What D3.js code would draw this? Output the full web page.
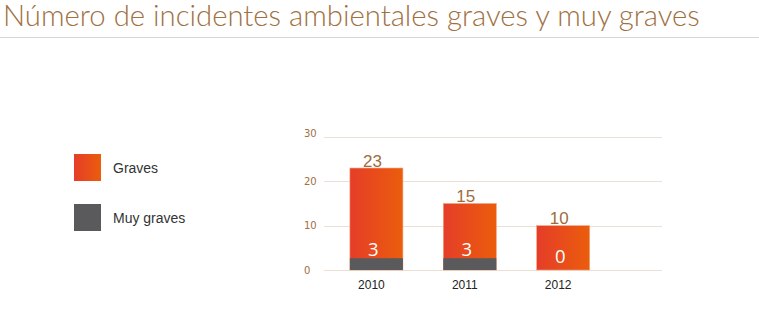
<!DOCTYPE html>
<html><head><meta charset="utf-8">
<script src="https://cdn.jsdelivr.net/npm/d3@7"></script>
<style>
html,body{margin:0;padding:0;background:#fff;}
svg{display:block;}
</style></head>
<body>
<svg id="chart" width="759" height="323"></svg>
<script>
const title = "Número de incidentes ambientales graves y muy graves";
const years = ["2010", "2011", "2012"];
const graves = [23, 15, 10];
const muyGraves = [3, 3, 0];
const yTicks = [0, 10, 20, 30];
const seriesNames = ["Graves", "Muy graves"];

const svg = d3.select("#chart");
const defs = svg.append("defs");
const grad = defs.append("linearGradient").attr("id", "gOrange")
  .attr("x1", "0%").attr("x2", "100%").attr("y1", "0%").attr("y2", "0%");
grad.append("stop").attr("offset", "0%").attr("stop-color", "#e53d29");
grad.append("stop").attr("offset", "100%").attr("stop-color", "#eb5d0c");

// Title
svg.append("text").attr("x", 3).attr("y", 26)
  .attr("font-family", "Lato").attr("font-weight", 300)
  .attr("font-size", 29.3).attr("fill", "#a0703f")
  .text(title);
svg.append("line").attr("x1", 0).attr("x2", 759).attr("y1", 37.5).attr("y2", 37.5)
  .attr("stroke", "#d6d6d6").attr("stroke-width", 1);

// Scales
const y = d3.scaleLinear().domain([0, 30]).range([270, 137]);
const x = d3.scaleBand().domain(years).range([329.7, 609.9])
  .paddingInner(0.4325).paddingOuter(0.2163);
const gridX0 = 324, gridX1 = 662;

// Grid
const grid = svg.append("g");
grid.selectAll("line").data(yTicks).join("line")
  .attr("x1", gridX0).attr("x2", gridX1)
  .attr("y1", d => Math.round(y(d)) + 0.5).attr("y2", d => Math.round(y(d)) + 0.5)
  .attr("stroke", "#eddfd3").attr("stroke-width", 1);

// Y axis labels
const yAxis = d3.axisLeft(y).tickValues(yTicks).tickSize(0).tickPadding(0);
const ya = svg.append("g").attr("transform", "translate(304,0)").call(yAxis);
ya.select(".domain").remove();
ya.selectAll("text").attr("text-anchor", "start")
  .attr("font-family", "DejaVu Sans").attr("font-size", 10)
  .attr("fill", "#a0703f").attr("x", 0)
  .attr("dy", d => d === 30 ? "-0.05em" : "0.32em");

// Bars
const bars = svg.append("g");
bars.selectAll("rect.g").data(years).join("rect").attr("class", "g")
  .attr("x", d => x(d)).attr("width", x.bandwidth())
  .attr("y", (d, i) => y(graves[i])).attr("height", (d, i) => y(0) - y(graves[i]))
  .attr("fill", "url(#gOrange)").attr("stroke", "#f2a27f").attr("stroke-width", 0.6);
bars.selectAll("rect.m").data(years).join("rect").attr("class", "m")
  .attr("x", d => x(d)).attr("width", x.bandwidth())
  .attr("y", (d, i) => y(muyGraves[i]) + 1.5).attr("height", (d, i) => Math.max(0, y(0) - y(muyGraves[i]) - 1.5))
  .attr("fill", "#5a5a5c");

// Value labels
svg.append("g").selectAll("text").data(years).join("text")
  .attr("x", d => x(d) + x.bandwidth() / 2 - 4)
  .attr("y", (d, i) => y(graves[i]) - 1.5)
  .attr("text-anchor", "middle")
  .attr("font-family", "Liberation Sans, Arial").attr("font-size", 17)
  .attr("fill", "#9e6d3c")
  .text((d, i) => graves[i]);

svg.append("g").selectAll("text").data(years).join("text")
  .attr("x", d => x(d) + x.bandwidth() / 2 - 3)
  .attr("y", (d, i) => Math.min(y(muyGraves[i]) - 0.5, y(0) - 7))
  .attr("text-anchor", "middle")
  .attr("font-family", "Open Sans").attr("font-size", 18.5)
  .attr("fill", "#ffffff")
  .text((d, i) => muyGraves[i]);

// X axis labels
const xAxis = d3.axisBottom(x).tickSize(0).tickPadding(0);
const xa = svg.append("g").attr("transform", "translate(-5,280)").call(xAxis);
xa.select(".domain").remove();
xa.selectAll("text").attr("font-family", "Liberation Sans, Arial")
  .attr("font-size", 12).attr("fill", "#222").attr("dy", "0.71em");

// Legend
const legColors = ["url(#gOrange)", "#5a5a5c"];
const leg = svg.append("g").selectAll("g").data(seriesNames).join("g")
  .attr("transform", (d, i) => `translate(74,${154 + i * 50})`);
leg.append("rect").attr("width", 27).attr("height", 27)
  .attr("fill", (d, i) => legColors[i]);
leg.append("text").attr("x", 39).attr("y", 14).attr("dy", "0.35em")
  .attr("font-family", "Liberation Sans, Arial").attr("font-size", 14)
  .attr("fill", "#333").text(d => d);
</script>
</body></html>
